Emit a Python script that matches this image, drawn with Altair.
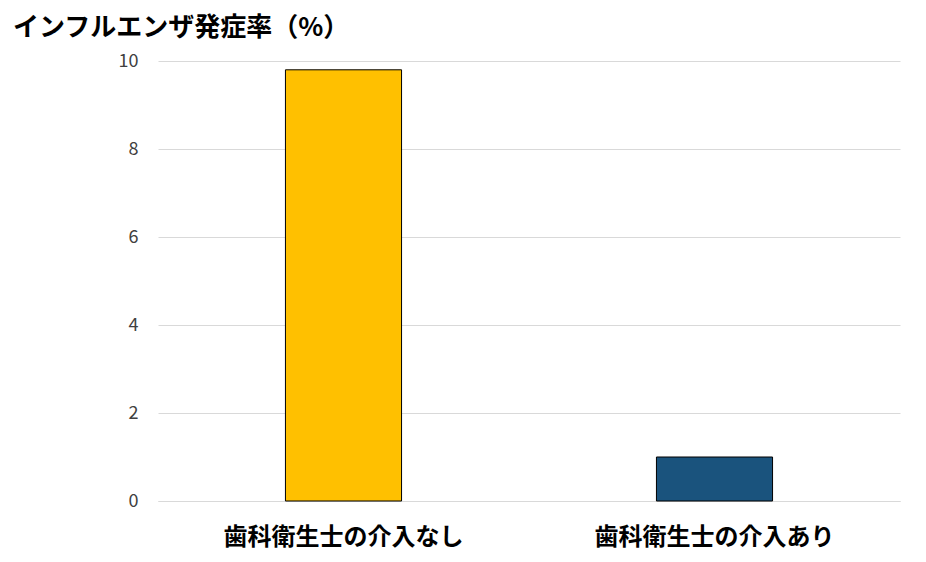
import altair as alt
import pandas as pd

categories = ["歯科衛生士の介入なし", "歯科衛生士の介入あり"]
values = [9.8, 1.0]
colors = ["#FFC000", "#1A537D"]
y_ticks = [0, 2, 4, 6, 8, 10]
title_text = "インフルエンザ発症率（%）"

df = pd.DataFrame({"group": categories, "rate": values})

FONT = "Noto Sans CJK JP"

chart = alt.Chart(df).mark_bar(stroke="black", strokeWidth=1).encode(
    x=alt.X("group:N", sort=categories,
            scale=alt.Scale(paddingInner=0.687, paddingOuter=0.3435),
            axis=alt.Axis(title=None, labelAngle=0, labelFontSize=24, labelFont=FONT,
                          labelFontWeight="bold", labelColor="black", labelPadding=24,
                          labelLimit=0,
                          ticks=False, domain=True, domainColor="#d9d9d9", grid=False)),
    y=alt.Y("rate:Q", scale=alt.Scale(domain=[0, 10]),
            axis=alt.Axis(title=None, values=y_ticks, labelFontSize=18, labelFont=FONT,
                          labelColor="#404040", labelPadding=20, ticks=False, domain=False,
                          gridColor="#d9d9d9", gridWidth=1)),
    color=alt.Color("group:N", sort=categories,
                    scale=alt.Scale(domain=categories, range=colors), legend=None),
).properties(
    width=742,
    height=440,
    padding={"left": 150, "top": 53, "right": 18, "bottom": 53},
    autosize=alt.AutoSizeParams(type="none"),
    title=alt.TitleParams(title_text, anchor="start", frame="group", dx=-145, offset=11,
                          fontSize=26, font=FONT, fontWeight="bold", color="black"),
).configure_view(stroke=None)

chart.save("out.html", embed_options={"renderer": "svg", "actions": False})
